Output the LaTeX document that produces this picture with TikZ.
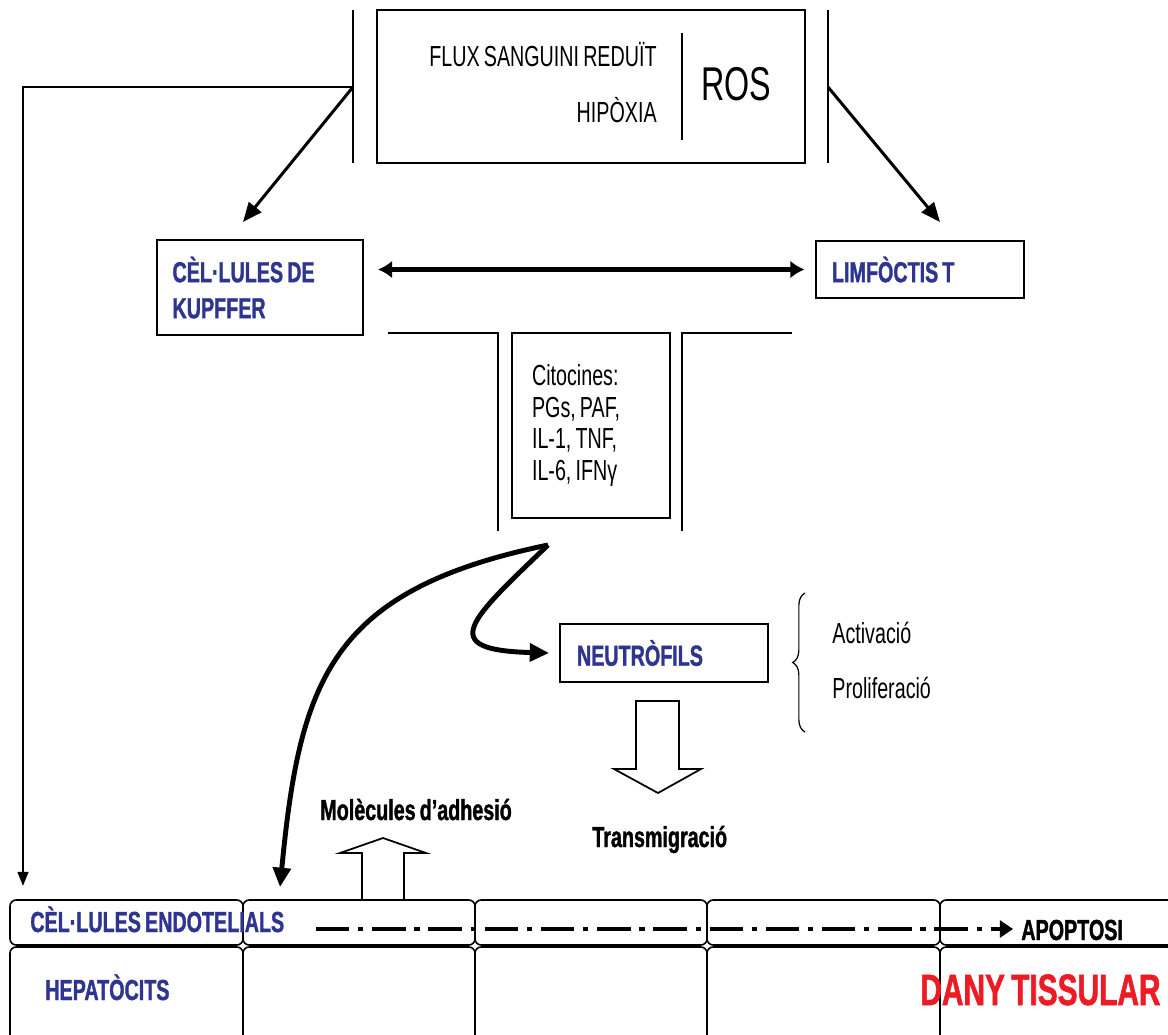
\documentclass[tikz,border=0pt]{standalone}
\usepackage{fontspec}
\setmainfont{Liberation Sans}[FakeStretch=0.68, WordSpace=0.75, BoldFeatures={FakeBold=1.2}]
\usetikzlibrary{arrows.meta,decorations.pathreplacing}

\begin{document}
\begin{tikzpicture}[x=0.02cm, y=-0.02cm, font=\fontsize{16.5}{18}\selectfont]
    % Define colours
    \definecolor{labelColour}{HTML}{2E3590}
    \definecolor{damageColour}{HTML}{ED1C24}

    % Define styles
    \tikzset{
        box/.style={draw, line width=1.1pt, inner sep=0pt},
        plaintext/.style={inner sep=0pt, anchor=base west},
        boldtext/.style={font=\fontsize{16.5}{18}\selectfont\bfseries},
        bluetext/.style={font=\fontsize{16.5}{20.5}\selectfont\bfseries, text=labelColour},
        thinarrow/.style={line width=1.7pt, -{Triangle[length=11pt, width=9pt]}},
        fatarrow/.style={line width=2.8pt, -{Triangle[length=11pt, width=10pt]}},
        cell/.style={draw, line width=0.9pt, rounded corners=3.5pt},
        hollow/.style={draw, line width=1pt, fill=white}
    }

    % Fix picture size
    \useasboundingbox (0,0) rectangle (1168,1034);

    % Draw causes box
    \node[box, minimum width=8.56cm, minimum height=3.06cm] (causes) at (591,86.5) {};
    \node[plaintext, anchor=base east] (flux) at (657,67) {FLUX SANGUINI REDUÏT};
    \node[plaintext, anchor=base east] (hypoxia) at (657,122) {HIPÒXIA};
    \node[inner sep=0pt, font=\fontsize{27}{30}\selectfont] (ros) at (736,84) {ROS};
    \draw[line width=0.9pt] (682,33) -- (682,140);
    \draw[line width=0.9pt] (353,10) -- (353,163);
    \draw[line width=0.9pt] (828,10) -- (828,163);

    % Draw cell boxes
    \node[box, bluetext, minimum width=4.12cm, minimum height=1.9cm, text width=3.5cm, align=flush left] (kupffer) at (260,287.5) {CÈL·LULES DE\\KUPFFER};
    \node[box, bluetext, minimum width=4.16cm, minimum height=1.14cm, text width=3.52cm, align=flush left] (limfo) at (920,269.5) {LIMFÒCTIS T};
    \node[box, bluetext, minimum width=4.16cm, minimum height=1.16cm, text width=3.48cm, align=flush left] (neutro) at (664,653) {NEUTRÒFILS};

    % Draw cytokines channel
    \node[box, minimum width=3.16cm, minimum height=3.7cm, text width=2.36cm, align=flush left] (cytokines) at (591,425.5) {Citocines:\\PGs, PAF,\\IL-1, TNF,\\IL-6, IFNγ};
    \draw[line width=0.9pt] (388,333) -- (498,333) -- (498,531);
    \draw[line width=0.9pt] (682,531) -- (682,333) -- (792,333);

    % Define arrow end points
    \coordinate (leftbar) at (353,87);
    \coordinate (rightbar) at (828,87);
    \coordinate (kupfferin) at (243,222);
    \coordinate (limfoin) at (940,222);
    \coordinate (endoin) at (23,886);
    \coordinate (fork) at (548,545);
    \coordinate (endoarrow) at (280,887);

    % Draw arrows from the causes
    \draw[thinarrow] (leftbar) -- (kupfferin);
    \draw[thinarrow] (rightbar) -- (limfoin);
    \draw[line width=1.4pt, -{Triangle[length=8pt, width=6pt]}] (leftbar) -| (endoin);
    \draw[line width=2.3pt, {Latex[length=8pt, width=10pt]}-{Latex[length=8pt, width=10pt]}, shorten <=8pt, shorten >=6pt] (kupffer.east |- limfo.west) -- (limfo.west);

    % Draw curved arrows from the cytokines
    \draw[fatarrow] (fork) .. controls (330,590) and (300,680) .. (endoarrow);
    \draw[fatarrow] (fork) .. controls (470,620) and (435,650) .. ([xshift=-0.2cm]neutro.west);

    % Draw brace and its labels
    \draw[line width=0.7pt, decorate, decoration={brace, amplitude=7pt}] (805,732) -- (805,593);
    \node[plaintext] (activation) at (832,643) {Activació};
    \node[plaintext] (proliferation) at (832,698) {Proliferació};

    % Draw hollow arrows
    \draw[hollow] (636,701) -- (636,769) -- (614,769) -- (658,793) -- (701,769) -- (679,769) -- (679,701) -- cycle;
    \node[plaintext, boldtext] (transmigration) at (592,847) {Transmigració};
    \draw[hollow] (362,899) -- (362,853) -- (340,853) -- (383,838) -- (426,853) -- (404,853) -- (404,899);
    \node[plaintext, boldtext] (adhesion) at (320,820) {Molècules d’adhesió};

    % Draw tissue cells
    \foreach \xa/\xb in {10/243, 243/475, 475/707, 707/940, 940/1175} {
        \draw[cell] (\xa,900) rectangle (\xb,945);
        \draw[cell] (\xa,947) rectangle (\xb,1045);
    }
    \node[plaintext, bluetext] (endothelial) at (30,932) {CÈL·LULES ENDOTELIALS};
    \node[plaintext, bluetext] (hepatocytes) at (45,1000) {HEPATÒCITS};
    \node[plaintext, boldtext] (apoptosis) at (1021,940) {APOPTOSI};
    \node[plaintext, font=\fontsize{25}{28}\selectfont\bfseries, text=damageColour] (damage) at (920,1005) {DANY TISSULAR};

    % Draw apoptosis line
    \coordinate (dotstart) at (316,929);
    \draw[line width=2.8pt, dash pattern=on 19pt off 5pt on 3pt off 5pt, -{Triangle[length=7.5pt, width=9.5pt]}, shorten >=4.5pt] (dotstart) -- (apoptosis.west |- dotstart);

\end{tikzpicture}
\end{document}
